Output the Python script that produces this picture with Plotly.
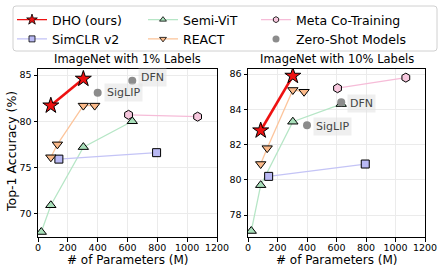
import plotly.graph_objects as go

# ---------------- data ----------------
# ImageNet 1% labels
dho_1_x = [86, 304]
dho_1_y = [81.7, 84.6]
react_1_x = [86, 130, 304, 380]
react_1_y = [76.1, 77.5, 81.7, 81.7]
semivit_1_x = [22, 86, 304, 632]
semivit_1_y = [68.0, 70.9, 77.2, 80.0]
simclr_1_x = [140, 795]
simclr_1_y = [75.9, 76.6]
meta_1_x = [607, 1070]
meta_1_y = [80.7, 80.5]
zs_1_x = [400, 632]
zs_1_y = [83.1, 84.4]
zs_names = ["SigLIP", "DFN"]

# ImageNet 10% labels
dho_10_x = [86, 304]
dho_10_y = [82.8, 85.9]
react_10_x = [86, 130, 304, 380]
react_10_y = [80.9, 81.8, 85.1, 85.0]
semivit_10_x = [22, 86, 304, 632]
semivit_10_y = [77.1, 79.7, 83.3, 84.3]
simclr_10_x = [140, 795]
simclr_10_y = [80.2, 80.9]
meta_10_x = [607, 1070]
meta_10_y = [85.2, 85.8]
zs_10_x = [400, 632]
zs_10_y = [83.1, 84.4]

x_ticks = [0, 200, 400, 600, 800, 1000, 1200]
y_ticks_1 = [70, 75, 80, 85]
y_ticks_10 = [78, 80, 82, 84, 86]

# ---------------- styles ----------------
FONT = "DejaVu Sans"
W, H = 443, 272
styles = {
    "DHO (ours)": dict(line="#ee1111", fill="#ee1111", symbol="star", size=12, lw=2.6),
    "SimCLR v2": dict(line="#c4c4f6", fill="#b9b9f4", symbol="square", size=8, lw=1.3),
    "Semi-ViT": dict(line="#b6e6c6", fill="#a9dfba", symbol="triangle-up", size=9, lw=1.3),
    "REACT": dict(line="#fcc59c", fill="#fbba8a", symbol="triangle-down", size=9, lw=1.3),
    "Meta Co-Training": dict(line="#f6bcd8", fill="#f6c7dd", symbol="hexagon", size=9, lw=1.3),
}
GREY = "#8c8c8c"

def px_x(p):
    return p / W

def px_y(p):
    return 1 - p / H

fig = go.Figure()

panels = [
    dict(xa="x", ya="y", data={
        "Semi-ViT": (semivit_1_x, semivit_1_y),
        "SimCLR v2": (simclr_1_x, simclr_1_y),
        "Meta Co-Training": (meta_1_x, meta_1_y),
        "REACT": (react_1_x, react_1_y),
        "DHO (ours)": (dho_1_x, dho_1_y),
    }, zs=(zs_1_x, zs_1_y)),
    dict(xa="x2", ya="y2", data={
        "Semi-ViT": (semivit_10_x, semivit_10_y),
        "SimCLR v2": (simclr_10_x, simclr_10_y),
        "Meta Co-Training": (meta_10_x, meta_10_y),
        "REACT": (react_10_x, react_10_y),
        "DHO (ours)": (dho_10_x, dho_10_y),
    }, zs=(zs_10_x, zs_10_y)),
]

for p in panels:
    for name, (xs, ys) in p["data"].items():
        s = styles[name]
        fig.add_trace(go.Scatter(
            x=xs, y=ys, mode="lines+markers", xaxis=p["xa"], yaxis=p["ya"],
            line=dict(color=s["line"], width=s["lw"]),
            marker=dict(symbol=s["symbol"], size=s["size"], color=s["fill"],
                        line=dict(color="black", width=1)),
            showlegend=False, hoverinfo="skip"))
    fig.add_trace(go.Scatter(
        x=p["zs"][0], y=p["zs"][1], mode="markers", xaxis=p["xa"], yaxis=p["ya"],
        marker=dict(symbol="circle", size=8, color=GREY, line=dict(width=0)),
        showlegend=False, hoverinfo="skip"))

# legend-only traces (three column legends)
legend_cols = [["DHO (ours)", "SimCLR v2"], ["Semi-ViT", "REACT"], ["Meta Co-Training", "Zero-Shot Models"]]
for i, col in enumerate(legend_cols):
    lg = "legend" if i == 0 else f"legend{i+1}"
    for name in col:
        if name == "Zero-Shot Models":
            fig.add_trace(go.Scatter(x=[None], y=[None], mode="markers", name=name, legend=lg,
                                     marker=dict(symbol="circle", size=7, color=GREY, line=dict(width=0))))
        else:
            s = styles[name]
            fig.add_trace(go.Scatter(x=[None], y=[None], mode="lines+markers", name=name, legend=lg,
                                     line=dict(color=s["line"], width=1.3),
                                     marker=dict(symbol=s["symbol"], size=6 if name != "DHO (ours)" else 8,
                                                 color=s["fill"], line=dict(color="black", width=0.8))))

leg_common = dict(orientation="v", bgcolor="rgba(0,0,0,0)", borderwidth=0,
                  font=dict(family=FONT, size=12.5, color="black"),
                  itemwidth=30, tracegroupgap=0, xanchor="left", yanchor="top",
                  itemclick=False, itemdoubleclick=False)
leg_x = [12, 143, 256]
layout_legends = {}
for i, lx in enumerate(leg_x):
    key = "legend" if i == 0 else f"legend{i+1}"
    layout_legends[key] = dict(leg_common, x=px_x(lx), y=px_y(5))

axis_common = dict(showline=True, mirror=True, linecolor="black", linewidth=1,
                   ticks="outside", ticklen=3.5, tickwidth=1, tickcolor="black",
                   showgrid=True, gridcolor="#ebebeb", gridwidth=1, zeroline=False,
                   automargin=False,
                   tickfont=dict(family=FONT, size=9.5, color="black"))

fig.update_layout(
    width=W, height=H, margin=dict(l=0, r=0, t=0, b=0, autoexpand=False),
    paper_bgcolor="white", plot_bgcolor="white",
    font=dict(family=FONT),
    xaxis=dict(axis_common, domain=[px_x(38), px_x(217)], range=[0, 1200], tickvals=x_ticks,
               anchor="y", ticklabelstandoff=-2),
    yaxis=dict(axis_common, domain=[px_y(237), px_y(68.5)], range=[67.46, 85.72], tickvals=y_ticks_1, anchor="x"),
    xaxis2=dict(axis_common, domain=[px_x(248), px_x(425)], range=[0, 1200], tickvals=x_ticks,
                anchor="y2", ticklabelstandoff=-2),
    yaxis2=dict(axis_common, domain=[px_y(237), px_y(69)], range=[76.76, 86.29], tickvals=y_ticks_10, anchor="x2"),
    **layout_legends,
)

# legend frame
x0, x1, y0, y1, r = px_x(13), px_x(437), px_y(6), px_y(51), 3
rx, ry = r / W, r / H
path = (f"M{x0+rx},{y0} L{x1-rx},{y0} Q{x1},{y0} {x1},{y0-ry} L{x1},{y1+ry} Q{x1},{y1} {x1-rx},{y1} "
        f"L{x0+rx},{y1} Q{x0},{y1} {x0},{y1+ry} L{x0},{y0-ry} Q{x0},{y0} {x0+rx},{y0} Z")
fig.add_shape(type="path", path=path, xref="paper", yref="paper",
              line=dict(color="#d0d0d0", width=1), fillcolor="rgba(255,255,255,0.8)", layer="below")

# titles
ann = []
def paper_text(text, cx, cy, size, angle=0):
    return dict(text=text, x=px_x(cx), y=px_y(cy), xref="paper", yref="paper",
                xanchor="center", yanchor="middle", textangle=angle,
                showarrow=False, font=dict(family=FONT, size=size, color="black"))

ann.append(paper_text("ImageNet with 1% Labels", 127.5, 59, 11.5))
ann.append(paper_text("ImageNet with 10% Labels", 336.5, 59, 11.5))
for cx in (127.5, 336.5):
    ann.append(paper_text("# of Parameters (M)", cx, 260, 12))
ann.append(paper_text("Top-1 Accuracy (%)", 11, 152, 12.5, -90))
# zero-shot labels
for (xa, ya, xs, ys, shifts) in [("x", "y", zs_1_x, zs_1_y, [0, 3]), ("x2", "y2", zs_10_x, zs_10_y, [-1, -1])]:
    for nm, xv, yv, sh in zip(zs_names, xs, ys, shifts):
        ann.append(dict(text=nm, x=xv, y=yv, xref=xa, yref=ya, xanchor="left", yanchor="middle",
                        xshift=6, yshift=sh, showarrow=False, bgcolor="rgba(225,225,225,0.55)",
                        borderpad=2, font=dict(family=FONT, size=11, color="#444444")))
fig.update_layout(annotations=ann)

fig.write_html("out.html", config={"displayModeBar": False},
               post_script="document.body.style.margin='0';")
